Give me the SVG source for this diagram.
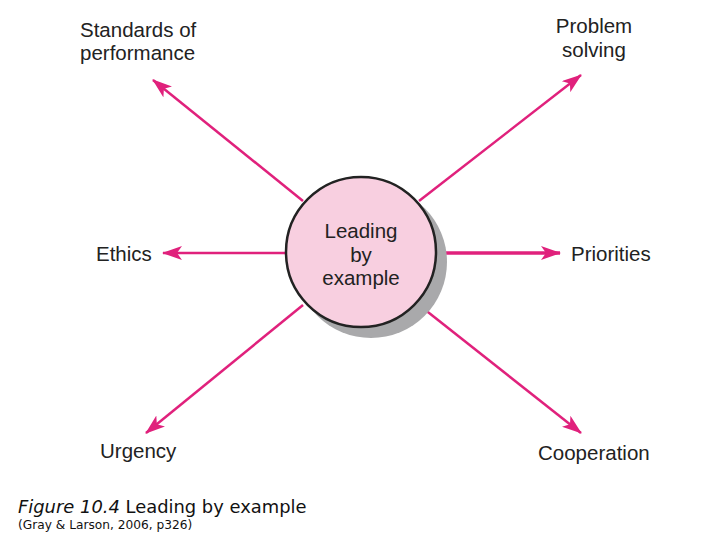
<svg xmlns="http://www.w3.org/2000/svg" width="720" height="540" viewBox="0 0 720 540">
<style>
.lbl{font-family:"Liberation Sans",Arial,sans-serif;font-size:20.5px;fill:#222}
.ctr{text-anchor:middle}
.ln{stroke:#e0217c;stroke-width:2.5;fill:none;marker-end:url(#ah)}
.cap{font-family:"DejaVu Sans",Verdana,sans-serif;fill:#111}
</style>
<defs>
<marker id="ah" viewBox="0 0 20 14" refX="19" refY="7" markerWidth="20" markerHeight="14" markerUnits="userSpaceOnUse" orient="auto">
<path d="M0,0 L20,7 L0,14 L5,7 Z" fill="#e0217c"/>
</marker>
</defs>
<rect width="720" height="540" fill="#fff"/>
<g id="connectors">
<line class="ln" x1="303" y1="201" x2="153" y2="80"/>
<line class="ln" x1="419" y1="201" x2="581" y2="75"/>
<line class="ln" x1="286" y1="253" x2="163" y2="253"/>
<line class="ln" x1="437" y1="253" x2="560" y2="253" style="stroke-width:3.5"/>
<line class="ln" x1="303" y1="305" x2="146" y2="433"/>
<line class="ln" x1="419" y1="305" x2="581" y2="433"/>
</g>
<g id="center">
<circle cx="371" cy="262" r="76" fill="#a9a9ab"/>
<circle cx="361" cy="252" r="75" fill="#f8cfe0" stroke="#222" stroke-width="2.5"/>
<text class="lbl ctr" x="361" y="238">Leading</text>
<text class="lbl ctr" x="361" y="262">by</text>
<text class="lbl ctr" x="361" y="285">example</text>
</g>
<g id="standards"><text class="lbl" x="80" y="37">Standards of</text><text class="lbl" x="80" y="60">performance</text></g>
<g id="problem"><text class="lbl ctr" x="594" y="33">Problem</text><text class="lbl ctr" x="594" y="57">solving</text></g>
<g id="ethics"><text class="lbl" x="96" y="261">Ethics</text></g>
<g id="priorities"><text class="lbl" x="571" y="261">Priorities</text></g>
<g id="urgency"><text class="lbl" x="100" y="458">Urgency</text></g>
<g id="cooperation"><text class="lbl" x="538" y="460">Cooperation</text></g>
<g id="caption">
<text class="cap" x="18" y="513" font-size="17.9"><tspan font-style="italic">Figure 10.4</tspan> Leading by example</text>
<text class="cap" x="18" y="529" font-size="12.2">(Gray &amp; Larson, 2006, p326)</text>
</g>
</svg>
